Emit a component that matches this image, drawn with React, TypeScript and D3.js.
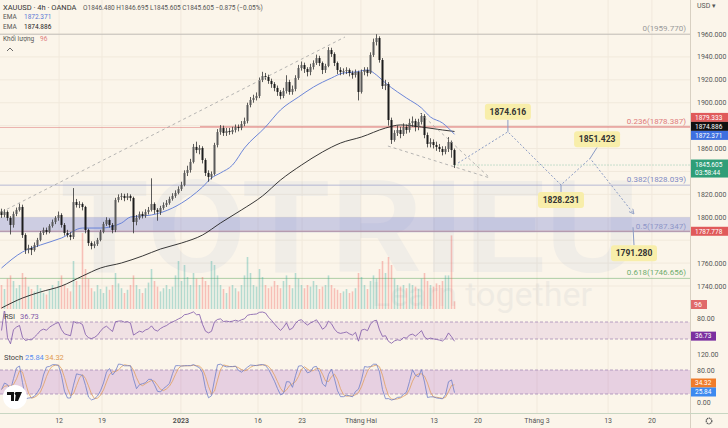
import React, { useRef, useEffect } from 'react';
import * as d3 from 'd3';

// 4h candles (every second bar of the original), open = previous close
const firstOpen = 1805.0;
const closes = [
  1802.0, 1804.6, 1799.4, 1793.3, 1802.9, 1806.4, 1809.0, 1784.5, 1771.4, 1773.2,
  1771.4, 1775.8, 1780.2, 1786.3, 1788.9, 1787.1, 1792.4, 1795.9, 1799.4, 1802.0,
  1793.3, 1786.3, 1784.5, 1782.8, 1813.3, 1810.7, 1811.6, 1809.0, 1788.9, 1777.5,
  1774.9, 1776.7, 1780.2, 1787.1, 1794.1, 1797.6, 1793.3, 1788.9, 1815.1, 1817.7,
  1818.6, 1816.8, 1818.6, 1816.8, 1795.9, 1799.4, 1802.9, 1801.1, 1804.6, 1806.4,
  1811.6, 1806.4, 1804.6, 1808.1, 1810.7, 1812.5, 1816.0, 1818.6, 1821.2, 1824.7,
  1828.2, 1838.7, 1841.3, 1848.3, 1861.4, 1858.7, 1860.5, 1850.0, 1838.7, 1835.2,
  1837.8, 1863.1, 1874.4, 1877.9, 1873.6, 1875.3, 1874.4, 1876.2, 1878.8, 1877.9,
  1881.4, 1884.0, 1898.0, 1902.4, 1904.1, 1905.9, 1919.8, 1923.3, 1922.5, 1919.0,
  1916.3, 1912.9, 1909.4, 1905.9, 1910.2, 1918.1, 1909.4, 1912.0, 1921.6, 1930.3,
  1932.9, 1929.4, 1926.8, 1931.2, 1934.7, 1939.0, 1934.7, 1928.6, 1932.1, 1946.0,
  1942.5, 1934.7, 1928.6, 1926.8, 1927.7, 1928.6, 1926.0, 1924.2, 1926.8, 1909.4,
  1926.8, 1928.6, 1926.0, 1941.7, 1953.0, 1956.5, 1937.3, 1914.6, 1916.3, 1884.9,
  1867.5, 1873.6, 1876.2, 1872.7, 1878.8, 1876.2, 1882.3, 1884.0, 1878.8, 1883.2,
  1888.4, 1871.8, 1864.0, 1865.7, 1863.1, 1861.4, 1859.6, 1857.0, 1859.6, 1865.7,
  1858.7, 1845.6,
];
const highs = [
  1807.5, 1807, 1806, 1801, 1805, 1808.5, 1812, 1811, 1786, 1776,
  1775, 1778, 1782, 1788, 1791, 1791, 1794, 1798, 1801, 1805,
  1803.5, 1795, 1789, 1787, 1825.5, 1816, 1814, 1813, 1810, 1790,
  1779, 1779, 1782, 1789, 1796, 1800, 1799, 1795, 1817, 1820,
  1821, 1820.5, 1821, 1820, 1818, 1802, 1805, 1805, 1807, 1809,
  1834, 1813, 1808, 1810, 1813, 1815, 1818, 1821, 1823.5, 1827,
  1831, 1841, 1845, 1851, 1864, 1866, 1863, 1862, 1851.5, 1841,
  1840, 1865, 1877, 1880.5, 1880, 1878, 1878, 1879, 1881, 1881,
  1884, 1887, 1900, 1905, 1907, 1909, 1922, 1927, 1926, 1924.5,
  1921, 1918, 1915, 1911, 1913, 1924, 1920, 1915, 1924, 1933,
  1936, 1935, 1931, 1934, 1937, 1942, 1941, 1936, 1934, 1948.5,
  1948, 1944, 1936, 1931, 1930, 1931, 1930, 1928, 1929, 1928,
  1929, 1931, 1931, 1944, 1956, 1959.8, 1958, 1939, 1920, 1918,
  1887, 1876, 1880, 1879, 1882, 1881, 1886, 1888, 1886, 1886,
  1891, 1890, 1874, 1869, 1868, 1866, 1864, 1862, 1862, 1870,
  1867, 1860,
];
const lows = [
  1799.5, 1800, 1797, 1785, 1791, 1801, 1805, 1782, 1768, 1768.5,
  1767, 1770, 1774, 1779, 1784.5, 1785, 1786, 1791, 1794, 1797,
  1791, 1784, 1782.5, 1780, 1781, 1808.5, 1808, 1806, 1786, 1775,
  1772, 1773, 1775, 1779, 1786, 1792.5, 1791, 1786, 1787, 1813,
  1815, 1814, 1815, 1814, 1786, 1793, 1798, 1799, 1799.5, 1802.5,
  1805, 1803, 1797, 1802, 1806.5, 1809, 1811, 1814.5, 1817, 1820,
  1823, 1827, 1836, 1839, 1847, 1856, 1855, 1847, 1836, 1831,
  1833, 1836.5, 1861, 1872, 1871, 1871, 1872, 1872.5, 1874, 1875,
  1876, 1879.5, 1882, 1896, 1900, 1902, 1904, 1918, 1920, 1916.5,
  1913, 1910, 1906, 1903, 1904, 1908, 1907, 1907, 1910, 1920,
  1928, 1926, 1923, 1924, 1929, 1933, 1932, 1925, 1926, 1931,
  1940, 1932, 1925, 1924, 1924.5, 1925, 1923, 1921, 1922, 1902,
  1908, 1924, 1923, 1925, 1940, 1950, 1935, 1912, 1911, 1880,
  1864, 1866, 1871, 1869, 1871, 1873, 1874, 1879, 1875, 1876,
  1881, 1869, 1861, 1861, 1860, 1858, 1857, 1854, 1855, 1857,
  1852, 1843,
];
const volumes = [
  300, 250, 380, 420, 350, 260, 300, 450, 400, 280,
  250, 220, 300, 260, 200, 180, 240, 300, 260, 350,
  420, 300, 260, 220, 600, 350, 300, 950, 500, 380,
  260, 220, 300, 250, 200, 280, 240, 300, 450, 320,
  260, 200, 240, 300, 420, 300, 250, 200, 260, 330,
  500, 350, 280, 220, 260, 300, 250, 280, 420, 600,
  350, 550, 400, 300, 450, 380, 300, 400, 350, 300,
  600, 550, 420, 300, 250, 200, 280, 300, 260, 220,
  300, 420, 650, 450, 300, 280, 500, 400, 300, 260,
  280, 350, 300, 260, 350, 420, 300, 260, 450, 380,
  300, 260, 300, 280, 350, 300, 250, 280, 300, 420,
  300, 260, 240, 200, 220, 250, 200, 220, 260, 450,
  400, 300, 250, 350, 420, 380, 500, 600, 450, 650,
  550, 380, 300, 280, 300, 260, 320, 300, 280, 250,
  380, 450, 350, 300, 280, 320, 300, 350, 420, 420,
  920, 96,
];

// EMA lines: [bar index, price]
const emaFast: [number, number][] = [
  [0, 1755.7], [7, 1769.7], [13, 1775.8], [20, 1781.9], [27, 1790.6], [33, 1790.6],
  [40, 1795.0], [43, 1800.2], [50, 1802.0], [57, 1808.1], [63, 1817.7], [67, 1826.4],
  [70, 1834.3], [73, 1838.7], [77, 1845.6], [81, 1860.5], [88, 1878.8], [93, 1893.7],
  [99, 1905.0], [104, 1913.7], [110, 1921.6], [114, 1926.0], [118, 1926.8], [122, 1928.6],
  [125, 1924.2], [128, 1917.2], [132, 1909.4], [135, 1904.1], [140, 1895.4], [143, 1887.5],
  [147, 1882.3], [151, 1872.4],
];
const emaSlow: [number, number][] = [
  [0, 1720.8], [7, 1729.5], [13, 1734.8], [20, 1740.0], [27, 1748.7], [33, 1755.7],
  [40, 1760.1], [47, 1766.2], [53, 1772.3], [60, 1777.5], [67, 1784.5], [73, 1795.0],
  [80, 1806.4], [87, 1818.6], [93, 1832.5], [100, 1845.6], [107, 1857.0], [113, 1864.8],
  [120, 1870.1], [128, 1877.9], [133, 1880.6], [140, 1878.8], [147, 1876.2], [151, 1874.9],
];

const timeTicks = [19.2, 33.5, 59.8, 85.5, 100.2, 119.8, 144.2, 158.8, 178.5, 202.2, 216.8];
const timeLabels = ['12', '19', '2023', '16', '23', 'Tháng Hai', '13', '20', 'Tháng 3', '13', '20'];
const priceTicks = [1960, 1940, 1920, 1900, 1880, 1860, 1840, 1820, 1800, 1780, 1760, 1740];

const fibRatios = ['0', '0.236', '0.382', '0.5', '0.618'];
const fibPrices = [1959.77, 1878.387, 1828.039, 1787.347, 1746.656];
const fibColors = ['#9a9a9a', '#e07b7b', '#7f8ac4', '#8e95c8', '#6fae6f'];

const zoneTop = 1800;
const zoneBottom = 1787.778;
const rayPrice = 1879.333;
const lastPrice = 1845.605;
const emaFastLast = 1872.371;
const emaSlowLast = 1874.886;

// channel / wedge trend lines: [bar index, price]
const channelLine: [number, number][] = [[0, 1804.6], [114.5, 1957.4]];
const wedgeLower: [number, number][] = [[128.8, 1862.2], [162.8, 1834.3]];
const wedgeUpper: [number, number][] = [[139.5, 1891.0], [162.8, 1834.3]];

// projected path
const projPath: [number, number][] = [
  [152.2, 1847.4], [168.8, 1874.616], [186.5, 1828.231], [196.2, 1851.423], [210.8, 1802.9],
];
const targetIdx = [168.8, 186.5, 196.2, 210.5];
const targetPrices = [1874.616, 1828.231, 1851.423, 1791.28];

const rsiLast = 36.73;
const stochK = 25.84;
const stochD = 34.32;
const volLast = 96;

const W = 728;
const H = 428;
const PR = 690;

const App: React.FC = () => {
  const svgRef = useRef<SVGSVGElement | null>(null);

  useEffect(() => {
    if (!svgRef.current) return;
    const svg = d3.select(svgRef.current);
    svg.selectAll('*').remove();
    svg.attr('width', W).attr('height', H).style('font-family', 'Roboto, Arial, sans-serif');

    const bg = '#fbf5ea';
    svg.append('rect').attr('width', W).attr('height', H).attr('fill', bg);

    const x = d3.scaleLinear().domain([0, 230]).range([1.5, 691.5]);
    const y = d3.scaleLinear().domain([1740, 1960]).range([286, 34]);
    const yRsi = d3.scaleLinear().domain([30, 70]).range([339, 322]);
    const yStoch = d3.scaleLinear().domain([20, 80]).range([394, 370]);
    const vh = d3.scaleLinear().domain([0, 1000]).range([0, 80]);

    const defs = svg.append('defs');
    defs.append('clipPath').attr('id', 'clipMain')
      .append('rect').attr('x', 0).attr('y', 0).attr('width', PR).attr('height', 311);
    defs.append('clipPath').attr('id', 'clipLow')
      .append('rect').attr('x', 0).attr('y', 311).attr('width', PR).attr('height', 102);
    defs.append('marker').attr('id', 'arrow').attr('viewBox', '0 0 10 10')
      .attr('refX', 9).attr('refY', 5).attr('markerWidth', 6).attr('markerHeight', 6)
      .attr('orient', 'auto')
      .append('path').attr('d', 'M1,1 L9,5 L1,9').attr('fill', 'none')
      .attr('stroke', '#8a9bc4').attr('stroke-width', 1.4);

    // grid
    const grid = svg.append('g');
    grid.selectAll('line.h').data(priceTicks).join('line')
      .attr('x1', 0).attr('x2', PR).attr('y1', (d) => y(d)).attr('y2', (d) => y(d))
      .attr('stroke', '#f1e9dc').attr('stroke-width', 1);
    grid.selectAll('line.v').data(timeTicks).join('line')
      .attr('x1', (d) => x(d)).attr('x2', (d) => x(d)).attr('y1', 0).attr('y2', 413)
      .attr('stroke', '#f1e9dc').attr('stroke-width', 1);

    // watermark
    svg.append('text').attr('x', 60).attr('y', 272).text('TOTRIEU')
      .attr('font-size', 128).attr('font-weight', 'bold').attr('fill', '#6f8fc6')
      .attr('opacity', 0.075).attr('textLength', 580).attr('lengthAdjust', 'spacingAndGlyphs');
    svg.append('text').attr('x', 592).attr('y', 306).attr('text-anchor', 'end')
      .text('Learn together').attr('font-size', 34).attr('fill', '#6f7f96').attr('opacity', 0.08);

    const main = svg.append('g').attr('clip-path', 'url(#clipMain)');

    // support zone
    main.append('rect').attr('x', 0).attr('width', PR)
      .attr('y', y(zoneTop)).attr('height', y(zoneBottom) - y(zoneTop))
      .attr('fill', 'rgba(98,112,210,0.3)');
    main.append('line').attr('x1', 0).attr('x2', PR)
      .attr('y1', y(zoneBottom)).attr('y2', y(zoneBottom))
      .attr('stroke', '#c9898a').attr('stroke-width', 1);

    // fib levels
    fibPrices.forEach((p, i) => {
      main.append('line').attr('x1', 0).attr('x2', PR).attr('y1', y(p)).attr('y2', y(p))
        .attr('stroke', fibColors[i]).attr('stroke-opacity', 0.55).attr('stroke-width', 1);
      main.append('text').attr('x', 686).attr('y', y(p) - 3).attr('text-anchor', 'end')
        .attr('font-size', 8).attr('fill', fibColors[i])
        .text(`${fibRatios[i]}(${p.toFixed(3)})`);
    });

    // red ray
    main.append('line').attr('x1', 200).attr('x2', PR).attr('y1', y(rayPrice)).attr('y2', y(rayPrice))
      .attr('stroke', '#d96a6a').attr('stroke-opacity', 0.6).attr('stroke-width', 1);

    const candles = closes.map((c, i) => ({
      i, o: i === 0 ? firstOpen : closes[i - 1], h: highs[i], l: lows[i], c, v: volumes[i],
    }));

    // volume
    main.selectAll('rect.vol').data(candles).join('rect')
      .attr('x', (d) => x(d.i) - 0.8).attr('width', 1.6)
      .attr('y', (d) => 309 - vh(d.v)).attr('height', (d) => vh(d.v))
      .attr('fill', (d) => (d.c >= d.o ? 'rgba(38,166,154,0.33)' : 'rgba(239,83,80,0.33)'));

    // EMAs
    const lineGen = d3.line<[number, number]>()
      .x((d) => x(d[0])).y((d) => y(d[1])).curve(d3.curveMonotoneX);
    main.append('path').attr('d', lineGen(emaSlow)).attr('fill', 'none')
      .attr('stroke', '#222').attr('stroke-width', 0.9);
    main.append('path').attr('d', lineGen(emaFast)).attr('fill', 'none')
      .attr('stroke', '#5c79d6').attr('stroke-width', 0.9);

    // candles
    main.selectAll('line.wick').data(candles).join('line')
      .attr('x1', (d) => x(d.i)).attr('x2', (d) => x(d.i))
      .attr('y1', (d) => y(d.h)).attr('y2', (d) => y(d.l))
      .attr('stroke', '#333').attr('stroke-width', 0.8);
    main.selectAll('rect.body').data(candles).join('rect')
      .attr('x', (d) => x(d.i) - 1).attr('width', 2)
      .attr('y', (d) => y(Math.max(d.o, d.c)))
      .attr('height', (d) => Math.max(1, Math.abs(y(d.o) - y(d.c))))
      .attr('fill', (d) => (d.c >= d.o ? '#5a5a5a' : '#1c1c1c'));

    // last price line
    main.append('line').attr('x1', x(151)).attr('x2', PR)
      .attr('y1', y(lastPrice)).attr('y2', y(lastPrice))
      .attr('stroke', '#2e9e7b').attr('stroke-opacity', 0.5).attr('stroke-dasharray', '1,2');

    // trend lines
    const straight = d3.line<[number, number]>().x((d) => x(d[0])).y((d) => y(d[1]));
    [channelLine, wedgeLower, wedgeUpper].forEach((ln) => {
      main.append('path').attr('d', straight(ln)).attr('fill', 'none')
        .attr('stroke', '#a3a3a3').attr('stroke-width', 0.8).attr('stroke-dasharray', '3,3');
    });

    // projection
    main.append('path').attr('d', straight(projPath)).attr('fill', 'none')
      .attr('stroke', '#8a9bc4').attr('stroke-width', 1).attr('stroke-dasharray', '2,2')
      .attr('marker-end', 'url(#arrow)');

    const labelDx = [0, 0, 7, 1];
    const labelDy = [-20, 15, -19, 26];
    targetIdx.forEach((t, i) => {
      const px = x(t);
      const py = y(targetPrices[i]);
      const lx = px + labelDx[i];
      const ly = py + labelDy[i];
      main.append('line').attr('x1', px).attr('y1', py).attr('x2', lx)
        .attr('y2', ly + (labelDy[i] < 0 ? 8 : -8))
        .attr('stroke', '#8a9bc4').attr('stroke-width', 1);
      main.append('rect').attr('x', lx - 23).attr('y', ly - 8).attr('width', 46).attr('height', 16)
        .attr('rx', 3).attr('fill', '#f8eeaa');
      main.append('text').attr('x', lx).attr('y', ly + 3).attr('text-anchor', 'middle')
        .attr('font-size', 8.5).attr('font-weight', 'bold').attr('fill', '#333')
        .text(targetPrices[i].toFixed(3));
    });

    // lower panes
    const low = svg.append('g').attr('clip-path', 'url(#clipLow)');

    // RSI (period 7 on the 2-bar candles)
    const rp = 7;
    const rsi: number[] = [50];
    let ag = 0;
    let al = 0;
    for (let i = 1; i < closes.length; i++) {
      const ch = closes[i] - closes[i - 1];
      const g = Math.max(ch, 0);
      const l = Math.max(-ch, 0);
      const n = Math.min(i, rp);
      ag = (ag * (n - 1) + g) / n;
      al = (al * (n - 1) + l) / n;
      rsi.push(al === 0 ? 100 : 100 - 100 / (1 + ag / al));
    }
    low.append('rect').attr('x', 0).attr('width', PR).attr('y', yRsi(70))
      .attr('height', yRsi(30) - yRsi(70)).attr('fill', 'rgba(156,60,180,0.11)');
    [70, 30].forEach((v) => {
      low.append('line').attr('x1', 0).attr('x2', PR).attr('y1', yRsi(v)).attr('y2', yRsi(v))
        .attr('stroke', '#a68bb6').attr('stroke-width', 0.8).attr('stroke-dasharray', '3,2');
    });
    const rsiLine = d3.line<number>().x((_, i) => x(i)).y((d) => yRsi(d));
    low.append('path').attr('d', rsiLine(rsi)).attr('fill', 'none')
      .attr('stroke', '#7e57a8').attr('stroke-width', 0.8);

    // Stochastic
    const sp = 7;
    const raw = closes.map((c, i) => {
      const from = Math.max(0, i - sp + 1);
      const hh = d3.max(highs.slice(from, i + 1)) as number;
      const ll = d3.min(lows.slice(from, i + 1)) as number;
      return hh === ll ? 50 : ((c - ll) / (hh - ll)) * 100;
    });
    const sma = (arr: number[], n: number) =>
      arr.map((_, i) => d3.mean(arr.slice(Math.max(0, i - n + 1), i + 1)) as number);
    const kLine = sma(raw, 2);
    const dLine = sma(kLine, 3);
    low.append('rect').attr('x', 0).attr('width', PR).attr('y', yStoch(80))
      .attr('height', yStoch(20) - yStoch(80)).attr('fill', 'rgba(156,60,190,0.2)');
    [80, 20].forEach((v) => {
      low.append('line').attr('x1', 0).attr('x2', PR).attr('y1', yStoch(v)).attr('y2', yStoch(v))
        .attr('stroke', '#a68bb6').attr('stroke-width', 0.8).attr('stroke-dasharray', '3,2');
    });
    const stLine = d3.line<number>().x((_, i) => x(i)).y((d) => yStoch(d));
    low.append('path').attr('d', stLine(dLine)).attr('fill', 'none')
      .attr('stroke', '#e0a060').attr('stroke-width', 0.8);
    low.append('path').attr('d', stLine(kLine)).attr('fill', 'none')
      .attr('stroke', '#6f7fc8').attr('stroke-width', 0.8);

    // pane labels
    const txt = (g: any, tx: number, ty: number, s: string, fill: string, size = 7.5) =>
      g.append('text').attr('x', tx).attr('y', ty).attr('font-size', size).attr('fill', fill).text(s);
    txt(svg, 4, 319, 'RSI', '#444');
    txt(svg, 20, 319, rsiLast.toFixed(2), '#7e57a8');
    txt(svg, 4, 360, 'Stoch', '#444');
    txt(svg, 25, 360, stochK.toFixed(2), '#5b8ff0');
    txt(svg, 45, 360, stochD.toFixed(2), '#e09a50');

    // legend
    txt(svg, 3, 10, 'XAUUSD · 4h · OANDA', '#333');
    txt(svg, 83, 10, 'O1846.480  H1846.695  L1845.605  C1845.605  −0.875 (−0.05%)', '#555', 6.5);
    txt(svg, 3, 19, 'EMA', '#555', 6.5);
    txt(svg, 24, 19, emaFastLast.toFixed(3), '#5c79d6', 6.5);
    txt(svg, 3, 29, 'EMA', '#555', 6.5);
    txt(svg, 24, 29, emaSlowLast.toFixed(3), '#222', 6.5);
    txt(svg, 3, 41, 'Khối lượng', '#555', 6.5);
    txt(svg, 40, 41, String(volLast), '#e08080', 6.5);
    svg.append('path').attr('d', 'M7,51 L10,48 L13,51').attr('fill', 'none')
      .attr('stroke', '#666').attr('stroke-width', 1);

    // TradingView badge
    svg.append('circle').attr('cx', 15).attr('cy', 397).attr('r', 12).attr('fill', '#fff');
    svg.append('path').attr('d', 'M7,392 h7 v9 h-3 v-6 h-4 z M16,392 h6 l-4,9 h-3 z')
      .attr('fill', '#111');
    svg.append('circle').attr('cx', 16.2).attr('cy', 393.6).attr('r', 1.5).attr('fill', '#111');

    // axes separators
    svg.append('line').attr('x1', PR + 0.5).attr('x2', PR + 0.5).attr('y1', 0).attr('y2', H)
      .attr('stroke', '#d8d0c2');
    svg.append('line').attr('x1', 0).attr('x2', W).attr('y1', 413.5).attr('y2', 413.5)
      .attr('stroke', '#c8d6c2');

    // price axis tags (drawn over the tick labels they hide)
    const stackTop = y(rayPrice) - 9;
    const tagYs = [stackTop, stackTop + 9, stackTop + 18, y(lastPrice) + 3.5, y(zoneBottom)];

    txt(svg, 697, 8, 'USD ▾', '#555', 7);
    priceTicks
      .filter((p) => tagYs.every((ty) => Math.abs(ty - y(p)) > 9))
      .forEach((p) => {
        txt(svg, 697, y(p) + 2.5, p.toFixed(3), '#555', 7);
      });
    txt(svg, 697, 321, '80.00', '#555', 7);
    txt(svg, 697, yStoch(120) + 2.5, '120.00', '#555', 7);
    txt(svg, 697, yStoch(80) + 2.5, '80.00', '#555', 7);
    txt(svg, 697, yStoch(0) + 2.5, '0.00', '#555', 7);

    const tag = (cy: number, s: string, fill: string, w = 37, h = 9) => {
      svg.append('rect').attr('x', PR + 1).attr('y', cy - h / 2).attr('width', w).attr('height', h)
        .attr('fill', fill);
      txt(svg, 695, cy + 2.3, s, '#fff', 6.5);
    };
    tag(tagYs[0], rayPrice.toFixed(3), '#e05a5a');
    tag(tagYs[1], emaSlowLast.toFixed(3), '#111');
    tag(tagYs[2], emaFastLast.toFixed(3), '#3d6fe0');
    svg.append('rect').attr('x', PR + 1).attr('y', y(lastPrice) - 5.5).attr('width', 37).attr('height', 18)
      .attr('fill', '#2f9e78');
    txt(svg, 695, y(lastPrice) + 1.5, lastPrice.toFixed(3), '#fff', 6.5);
    txt(svg, 695, y(lastPrice) + 10, '03:58:44', '#fff', 6.5);
    tag(tagYs[4], zoneBottom.toFixed(3), '#e05a5a');
    svg.append('rect').attr('x', PR + 1).attr('y', 300).attr('width', 16).attr('height', 9).attr('fill', '#e06a6a');
    txt(svg, 694, 307, String(volLast), '#fff', 7);
    tag(yRsi(rsiLast), rsiLast.toFixed(2), '#7b2fa0', 25);
    tag(383, stochD.toFixed(2), '#f07c2a', 25);
    tag(392, stochK.toFixed(2), '#3d8af0', 25);

    // time axis
    svg.selectAll('text.t').data(timeTicks).join('text')
      .attr('x', (d) => x(d)).attr('y', 423).attr('text-anchor', 'middle')
      .attr('font-size', 7).attr('font-weight', (_, i) => (timeLabels[i] === '2023' ? 'bold' : 'normal'))
      .attr('fill', '#555').text((_, i) => timeLabels[i]);

    // gear
    svg.append('circle').attr('cx', 709).attr('cy', 421).attr('r', 2.8).attr('fill', 'none')
      .attr('stroke', '#555').attr('stroke-width', 1.3).attr('stroke-dasharray', '1.2,0.6');
  }, []);

  return (
    <svg ref={svgRef} style={{ position: 'absolute', left: 0, top: 0, display: 'block' }} />
  );
};

export default App;
